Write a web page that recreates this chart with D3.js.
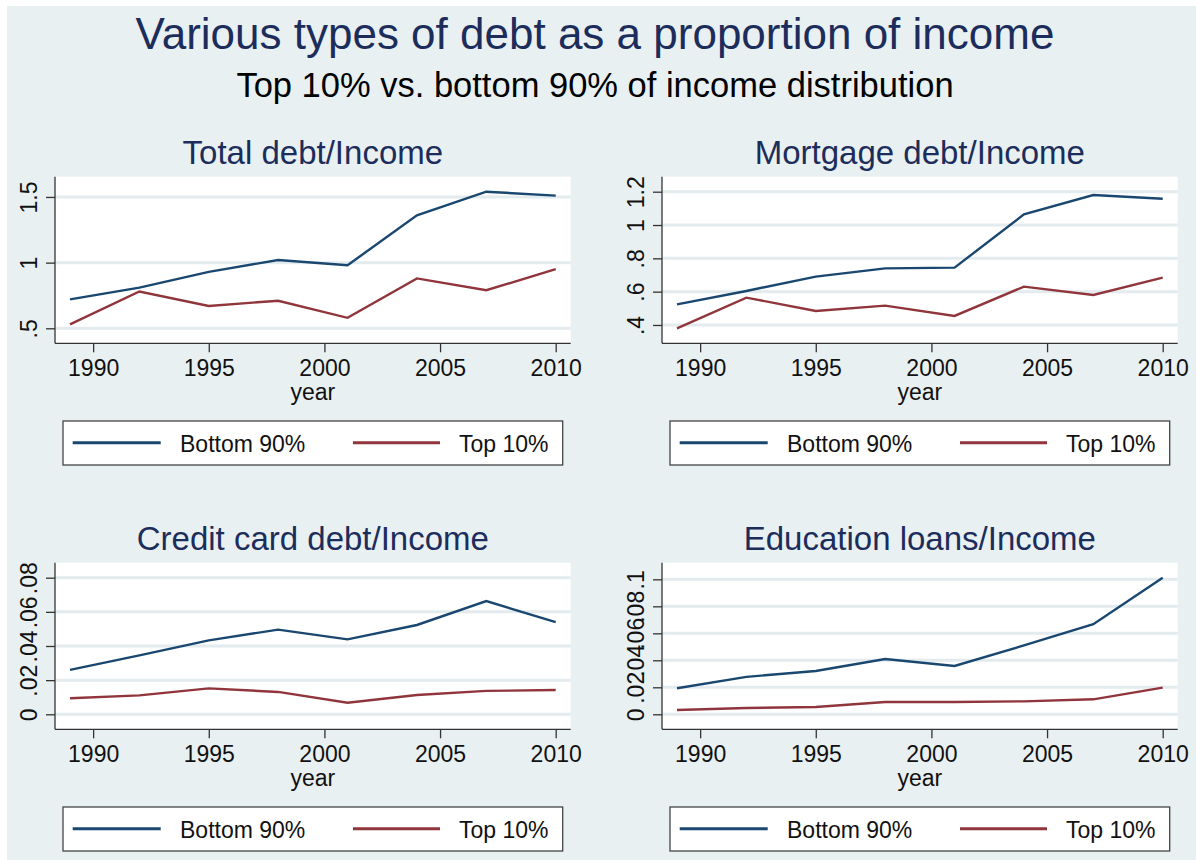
<!DOCTYPE html>
<html>
<head>
<meta charset="utf-8">
<script src="https://cdn.jsdelivr.net/npm/d3@7"></script>
<style>
  body { margin: 0; background: #fff; }
  svg { display: block; font-family: "Liberation Sans", Arial, Helvetica, sans-serif; }
</style>
</head>
<body>
<div id="chart"></div>
<script>
// survey years and axis ticks
const years = [1989, 1992, 1995, 1998, 2001, 2004, 2007, 2010];
const xTicks = [1990, 1995, 2000, 2005, 2010];
const seriesNames = ["Bottom 90%", "Top 10%"];
const panelTitles = ["Total debt/Income", "Mortgage debt/Income", "Credit card debt/Income", "Education loans/Income"];

// values
const totalBottom = [0.72, 0.81, 0.93, 1.02, 0.98, 1.36, 1.54, 1.51];
const totalTop    = [0.53, 0.78, 0.67, 0.71, 0.58, 0.88, 0.79, 0.95];
const mortBottom  = [0.524, 0.604, 0.69, 0.74, 0.744, 1.064, 1.18, 1.158];
const mortTop     = [0.38, 0.564, 0.484, 0.516, 0.454, 0.63, 0.58, 0.684];
const ccBottom    = [0.026, 0.0345, 0.0433, 0.0496, 0.0439, 0.0523, 0.0663, 0.054];
const ccTop       = [0.0094, 0.0111, 0.0152, 0.0131, 0.0068, 0.0113, 0.0137, 0.0142];
const eduBottom   = [0.0193, 0.0277, 0.0321, 0.041, 0.0358, 0.051, 0.0667, 0.1012];
const eduTop      = [0.0032, 0.0047, 0.0054, 0.0091, 0.0091, 0.0096, 0.0111, 0.0198];

const totalTicks = [0.5, 1, 1.5];
const mortTicks  = [0.4, 0.6, 0.8, 1, 1.2];
const ccTicks    = [0, 0.02, 0.04, 0.06, 0.08];
const eduTicks   = [0, 0.02, 0.04, 0.06, 0.08, 0.1];

const W = 1196, H = 860;
const navy = "#1a476f", maroon = "#90353b";
const bgColor = "#e9f0f2", gridColor = "#e3ebee";

const svg = d3.select("#chart").append("svg")
    .attr("width", W)
    .attr("height", H);

svg.append("rect").attr("width", W).attr("height", H).attr("fill", "#fff");
svg.append("rect")
    .attr("x", 7).attr("y", 6)
    .attr("width", W - 7).attr("height", H - 6)
    .attr("fill", bgColor);

svg.append("text")
    .attr("x", 595).attr("y", 48.5)
    .attr("text-anchor", "middle")
    .attr("font-size", 44)
    .attr("fill", "#1c2d5c")
    .text("Various types of debt as a proportion of income");

svg.append("text")
    .attr("x", 595).attr("y", 96.7)
    .attr("text-anchor", "middle")
    .attr("font-size", 34.5)
    .attr("fill", "#000")
    .text("Top 10% vs. bottom 90% of income distribution");

// stata style labels: .5 instead of 0.5
function stataFmt(v){
    let s = String(+v.toFixed(4));
    return s.replace(/^0\./, ".");
}

class Panel{
    constructor(ox, oy, title, bottom, top, ticks){
        this.ox = ox;
        this.oy = oy;
        this.title = title;
        this.bottom = bottom;
        this.top = top;
        this.ticks = ticks;

        // plot region
        this.left = 55; this.right = 570.7;
        this.pTop = 176.7; this.pBottom = 343.3;
        this.margin = 15;
    }

    draw(svg){
        let g = svg.append("g").attr("transform", `translate(${this.ox},${this.oy})`);

        let x = d3.scaleLinear()
            .domain(d3.extent(years))
            .range([this.left + this.margin, this.right - this.margin]);

        let all = this.bottom.concat(this.top, this.ticks);
        let y = d3.scaleLinear()
            .domain(d3.extent(all))
            .range([this.pBottom - this.margin, this.pTop + this.margin]);

        g.append("text")
            .attr("x", (this.left + this.right) / 2).attr("y", 164)
            .attr("text-anchor", "middle")
            .attr("font-size", 33)
            .attr("fill", "#1c2d5c")
            .text(this.title);

        g.append("rect")
            .attr("x", this.left).attr("y", this.pTop)
            .attr("width", this.right - this.left)
            .attr("height", this.pBottom - this.pTop)
            .attr("fill", "#fff");

        // grid
        g.selectAll(".grid").data(this.ticks).enter().append("line")
            .attr("x1", this.left).attr("x2", this.right)
            .attr("y1", d => y(d)).attr("y2", d => y(d))
            .attr("stroke", gridColor)
            .attr("stroke-width", 3);

        // y axis
        let yAxis = d3.axisLeft(y).tickValues(this.ticks).tickSize(9).tickFormat(stataFmt);
        let ya = g.append("g").attr("transform", `translate(${this.left},0)`).call(yAxis);
        ya.select(".domain").attr("d", `M0,${this.pTop}V${this.pBottom}`).attr("stroke", "#333").attr("stroke-width", 1.3);
        ya.selectAll(".tick line").attr("stroke", "#333").attr("stroke-width", 1.3);
        ya.selectAll(".tick text")
            .attr("font-size", 23)
            .attr("fill", "#111")
            .attr("font-family", "Liberation Sans, Arial, sans-serif")
            .attr("text-anchor", "middle")
            .attr("x", null).attr("dy", null)
            .attr("transform", "translate(-18.3,0) rotate(-90)");

        // x axis
        let xAxis = d3.axisBottom(x).tickValues(xTicks).tickSize(9).tickFormat(d3.format("d"));
        let xa = g.append("g").attr("transform", `translate(0,${this.pBottom})`).call(xAxis);
        xa.select(".domain").attr("d", `M${this.left},0H${this.right}`).attr("stroke", "#333").attr("stroke-width", 1.3);
        xa.selectAll(".tick line").attr("stroke", "#333").attr("stroke-width", 1.3);
        xa.selectAll(".tick text")
            .attr("font-size", 23)
            .attr("fill", "#111")
            .attr("font-family", "Liberation Sans, Arial, sans-serif")
            .attr("y", 376 - this.pBottom).attr("dy", null);

        g.append("text")
            .attr("x", (this.left + this.right) / 2).attr("y", 400)
            .attr("text-anchor", "middle")
            .attr("font-size", 23)
            .attr("fill", "#111")
            .text("year");

        let line = d3.line().x((d, i) => x(years[i])).y(d => y(d));
        g.append("path").attr("d", line(this.bottom))
            .attr("fill", "none").attr("stroke", navy).attr("stroke-width", 2.4);
        g.append("path").attr("d", line(this.top))
            .attr("fill", "none").attr("stroke", maroon).attr("stroke-width", 2.4);

        // legend
        let lg = g.append("g").attr("transform", "translate(63,421)");
        lg.append("rect")
            .attr("width", 499.7).attr("height", 44)
            .attr("fill", "#fff").attr("stroke", "#444").attr("stroke-width", 1.3);
        let items = [[9.7, 97.7, 117, navy], [290, 377, 396, maroon]];
        items.forEach((it, i) => {
            lg.append("line")
                .attr("x1", it[0]).attr("x2", it[1])
                .attr("y1", 21.7).attr("y2", 21.7)
                .attr("stroke", it[3]).attr("stroke-width", 3);
            lg.append("text")
                .attr("x", it[2]).attr("y", 30.7)
                .attr("font-size", 23)
                .attr("fill", "#111")
                .text(seriesNames[i]);
        });
    }
}

let panels = [
    new Panel(0, 0, panelTitles[0], totalBottom, totalTop, totalTicks),
    new Panel(607, 0, panelTitles[1], mortBottom, mortTop, mortTicks),
    new Panel(0, 386, panelTitles[2], ccBottom, ccTop, ccTicks),
    new Panel(607, 386, panelTitles[3], eduBottom, eduTop, eduTicks)
];
for(let i = 0; i < panels.length; i++){
    panels[i].draw(svg);
}
</script>
</body>
</html>
